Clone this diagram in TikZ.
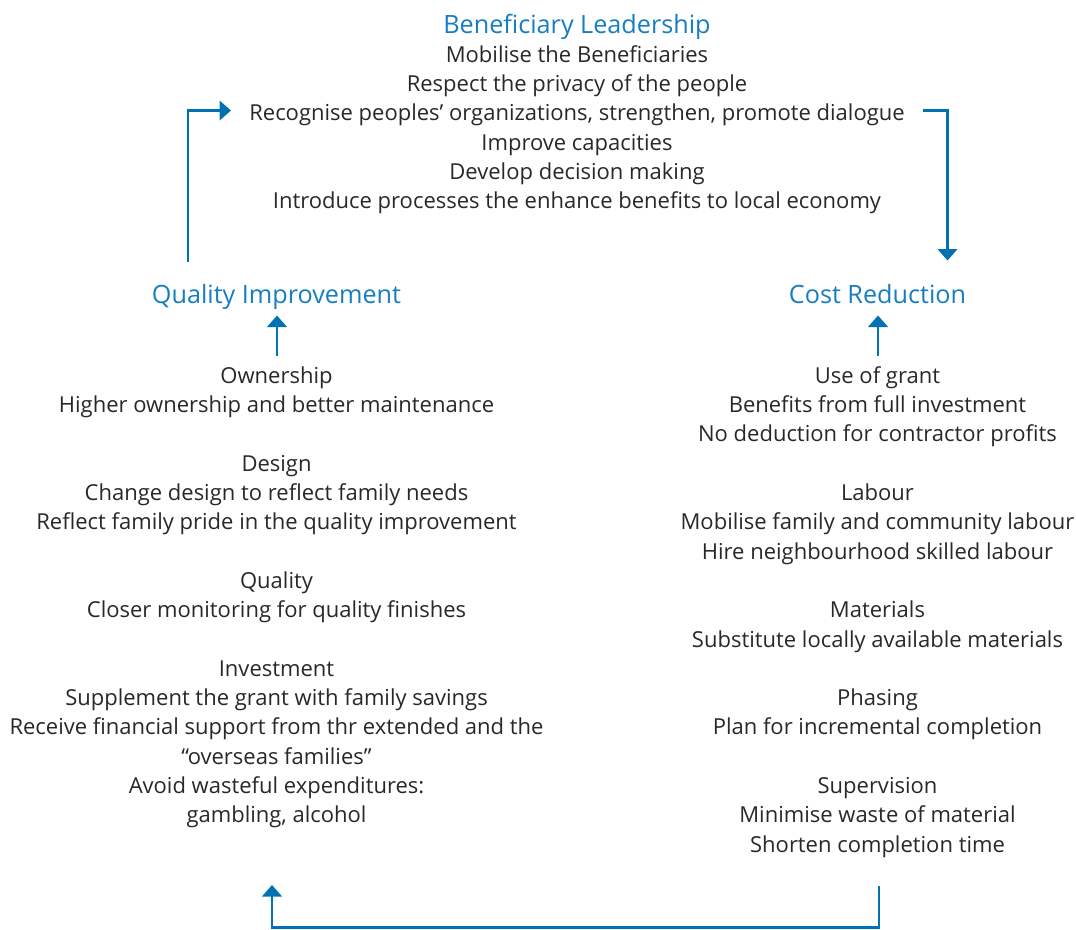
\documentclass[tikz,border=0pt]{standalone}
\usepackage{fontspec}
\setmainfont{Open Sans}
\usetikzlibrary{arrows.meta}
\definecolor{lineblue}{RGB}{0,114,178}
\definecolor{headblue}{RGB}{22,126,192}
\definecolor{txt}{RGB}{40,40,40}
\begin{document}
\begin{tikzpicture}[x=1pt,y=-1pt,
 body/.style={anchor=base, inner sep=0pt, text=txt, font=\fontsize{22}{26}\selectfont},
 headtxt/.style={anchor=base, inner sep=0pt, text=headblue, font=\fontsize{25.2}{30}\selectfont},
 flow/.style={draw=lineblue, line width=2.7pt, -{Triangle[length=11.5pt,width=19.5pt]}}]
\useasboundingbox (0,0) rectangle (1076,929);

% top block
\node[headtxt] (bl) at (577,33) {Beneficiary Leadership};
\node[body] (b1) at (577,62.7) {Mobilise the Beneficiaries};
\node[body] (b2) at (577,91.7) {Respect the privacy of the people};
\node[body] (b3) at (577,120.5) {Recognise peoples’ organizations, strengthen, promote dialogue};
\node[body] (b4) at (577,150) {Improve capacities};
\node[body] (b5) at (577,179) {Develop decision making};
\node[body] (b6) at (577,208) {Introduce processes the enhance benefits to local economy};

% headings
\node[headtxt] (qi) at (276.5,303) {Quality Improvement};
\node[headtxt] (cr) at (877.5,303) {Cost Reduction};

% left block
\foreach \t [count=\i from 0] in {Ownership,Higher ownership and better maintenance,,Design,Change design to reflect family needs,Reflect family pride in the quality improvement,,Quality,Closer monitoring for quality finishes,,Investment,Supplement the grant with family savings,Receive financial support from thr extended and the,“overseas families”,Avoid wasteful expenditures:,{gambling, alcohol}}
  \node[body] (l\i) at (276.5,383.3+29.3*\i) {\t};

% right block
\foreach \t [count=\i from 0] in {Use of grant,Benefits from full investment,No deduction for contractor profits,,Labour,Mobilise family and community labour,Hire neighbourhood skilled labour,,Materials,Substitute locally available materials,,Phasing,Plan for incremental completion,,Supervision,Minimise waste of material,Shorten completion time}
  \node[body] (r\i) at (877.5,383.3+29.3*\i) {\t};

% connectors
\coordinate (q1) at (277,356);
\coordinate (q2) at (277,315.5);
\coordinate (c1) at (878,356);
\coordinate (c2) at (878,315.5);
\draw[flow] (q1) -- (q2);
\draw[flow] (c1) -- (c2);

\coordinate (tl1) at (188,262);
\coordinate (tl2) at (231,110.5);
\draw[flow] (tl1) |- (tl2);

\coordinate (tr1) at (923,110.5);
\coordinate (tr2) at (947.5,260.5);
\draw[flow] (tr1) -| (tr2);

\coordinate (bt1) at (879,886);
\coordinate (bt2) at (272,885);
\draw[flow] (bt1) -- (879,927.3) -| (bt2);
\end{tikzpicture}
\end{document}
